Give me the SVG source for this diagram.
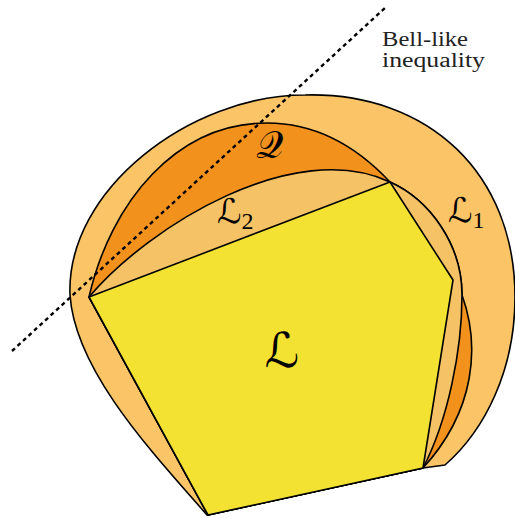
<svg xmlns="http://www.w3.org/2000/svg" width="515" height="518" viewBox="0 0 515 518">
<style>
.sh{stroke:#000;stroke-width:1.6;stroke-linejoin:round}
.math{font-family:"DejaVu Serif","DejaVu Sans",serif;fill:#000}
.sub{font-family:"Liberation Serif",serif;fill:#000}
.lbl{font-family:"Liberation Serif",serif;font-size:20px;fill:#222}
</style>
<rect width="515" height="518" fill="#fff"/>
<g id="L1">
<path class="sh" fill="#FBC466" d="M207,515 C150,450 75,370 70,295 C66,190 190,95 305,95 C430,92 515,175 515,297 C515,370 485,430 445,465 L423,468 Z"/>
</g>
<g id="Q">
<path class="sh" fill="#F2911C" d="M89,297 C111,201 177,123 267,123 C320,123 360,150 390,182 C430,200 462,245 462,295 C480,345 476,410 423,468 L208,515 Z"/>
</g>
<g id="L2">
<path class="sh" fill="#F5C265" d="M89,297 C150,225 295,137 390,182 C430,200 462,245 462,295 C462,350 448,420 423,468 L208,515 Z"/>
</g>
<g id="L">
<polygon class="sh" fill="#F3E232" points="89,297 390,182 453,280 423,468 208,515"/>
</g>
<g id="connectors">
<line x1="12" y1="351" x2="386" y2="7" stroke="#000" stroke-width="2.4" stroke-dasharray="4 3.5"/>
</g>
<g id="labels">
<text class="math" x="282" y="367" font-size="48" text-anchor="middle">ℒ</text>
<text class="math" x="256" y="158" font-size="38">𝒬</text>
<text class="math" x="217" y="223" font-size="34">ℒ<tspan class="sub" font-size="24" dy="6">2</tspan></text>
<text class="math" x="448" y="222" font-size="34">ℒ<tspan class="sub" font-size="24" dy="6">1</tspan></text>
<text class="lbl" font-family="Liberation Serif, serif" x="382" y="46" textLength="86" lengthAdjust="spacingAndGlyphs">Bell-like</text>
<text class="lbl" font-family="Liberation Serif, serif" x="382" y="67" textLength="103" lengthAdjust="spacingAndGlyphs">inequality</text>
</g>
</svg>
